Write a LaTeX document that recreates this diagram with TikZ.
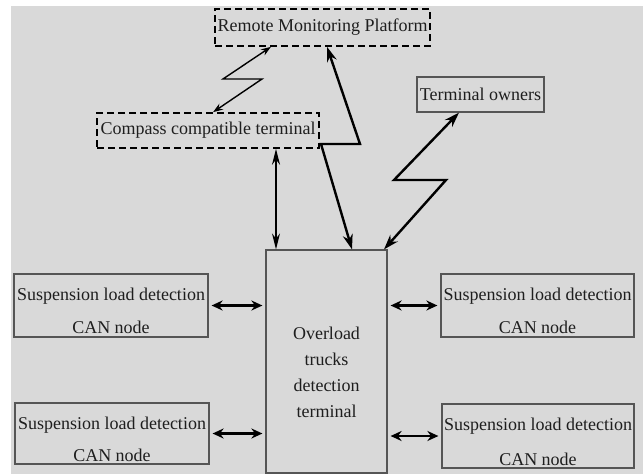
\documentclass[tikz,border=0pt]{standalone}
\usepackage{fontspec}
\setmainfont{Liberation Serif}
\usetikzlibrary{arrows.meta,calc}
\definecolor{bggrey}{HTML}{D9D9D9}
\definecolor{boxline}{HTML}{555555}
\definecolor{txt}{HTML}{1E1E1E}
\begin{document}
\begin{tikzpicture}[x=1pt,y=-1pt,
  box/.style={draw=boxline,line width=1.2pt,inner sep=0pt,align=center,text=txt,font=\fontsize{18}{21}\selectfont},
  dbox/.style={draw=black,line width=1.6pt,dash pattern=on 7pt off 4pt,inner sep=0pt,text=txt,font=\fontsize{18}{21}\selectfont},
  harrow/.style={line width=2.2pt,{Stealth[length=11pt,width=10pt]}-{Stealth[length=11pt,width=10pt]},shorten <=3pt,shorten >=3pt},
  zig/.style={line width=1.4pt,{Stealth[length=10pt,width=7pt]}-{Stealth[length=10pt,width=7pt]}},
  zigthick/.style={line width=2.4pt,{Stealth[length=15pt,width=10pt]}-{Stealth[length=15pt,width=10pt]}},
  varrow/.style={line width=1.3pt,{Stealth[length=16pt,width=8pt]}-{Stealth[length=16pt,width=8pt]}}
]
\useasboundingbox (0,0) rectangle (643,474);
\fill[bggrey] (11,6) rectangle (643,474);

\node[dbox,minimum width=215pt,minimum height=37pt] (remote) at (322.5,27.5) {Remote Monitoring Platform};
\node[dbox,minimum width=222pt,minimum height=35pt] (compass) at (208,130.5) {Compass compatible terminal};
\node[box,minimum width=127pt,minimum height=35pt] (owners) at (480.5,94.5) {Terminal owners};
\node[box,minimum width=121pt,minimum height=223pt,font=\fontsize{18}{26}\selectfont] (central) at (326.5,361.5) {\rule{0pt}{34pt}Overload\\trucks\\detection\\terminal};
\node[box,minimum width=194pt,minimum height=63pt] (lt) at (111,305.5) {\rule{0pt}{24pt}Suspension load detection\\[12pt]CAN node};
\node[box,minimum width=194pt,minimum height=61pt] (lb) at (112,433.5) {\rule{0pt}{24pt}Suspension load detection\\[11pt]CAN node};
\node[box,minimum width=193pt,minimum height=63pt] (rt) at (537.5,305.5) {\rule{0pt}{24pt}Suspension load detection\\[12pt]CAN node};
\node[box,minimum width=192pt,minimum height=64pt] (rb) at (538,436) {\rule{0pt}{24pt}Suspension load detection\\[14pt]CAN node};

\draw[harrow] (lt.east) -- (lt.east -| central.west);
\draw[harrow] (lb.east) -- (lb.east -| central.west);
\draw[harrow] (central.east |- rt.west) -- (rt.west);
\draw[harrow] (central.east |- rb.west) -- (rb.west);

\coordinate (z1t) at (271,0);
\coordinate (z1a) at (223,79);
\coordinate (z1b) at (262,79);
\coordinate (z1d) at (213,0);
\draw[zig] (z1t |- remote.south) -- (z1a) -- (z1b) -- (z1d |- compass.north);

\coordinate (z2t) at (327,0);
\coordinate (z2a) at (360,144);
\coordinate (z2b) at (321,144);
\coordinate (z2d) at (352,0);
\draw[zigthick] (z2t |- remote.south) -- (z2a) -- (z2b) -- (z2d |- central.north);

\coordinate (z3t) at (459,0);
\coordinate (z3a) at (394,180);
\coordinate (z3b) at (446,180);
\coordinate (z3d) at (384,0);
\draw[zigthick] (z3t |- owners.south) -- (z3a) -- (z3b) -- (z3d |- central.north);

\coordinate (z4) at (276,0);
\draw[varrow] (z4 |- compass.south) -- (z4 |- central.north);
\end{tikzpicture}
\end{document}
